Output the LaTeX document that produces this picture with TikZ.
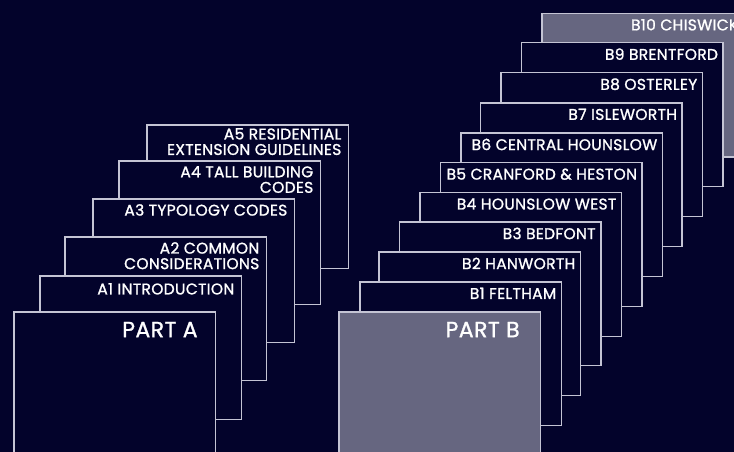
\documentclass[tikz,border=0pt]{standalone}
\usepackage{fontspec}
\setmainfont{Poppins}[FakeBold=1.2, LetterSpace=2]
\usetikzlibrary{positioning}

\definecolor{navy}{HTML}{03032B}
\definecolor{slate}{HTML}{666680}
\definecolor{edge}{HTML}{C4C4D4}

\begin{document}
\begin{tikzpicture}[
    x=1pt, y=-1pt,
    sheet/.style={rectangle, draw=edge, line width=1.5pt, fill=navy, minimum width=201.5pt,
                  minimum height=143.7pt, inner sep=0pt, outer sep=0pt, anchor=north west},
    sheetgray/.style={sheet, fill=slate},
    title/.style={inner sep=0pt, text=white, align=right, font=\fontsize{15.5}{15.5}\selectfont},
    parttitle/.style={title, font=\fontsize{22}{22}\selectfont}
]

\useasboundingbox (0,0) rectangle (734,452);
\clip (0,0) rectangle (734,452);
\fill[navy] (0,0) rectangle (734,452);

% Part A stack
\node[sheet] (aresid) at (147,125) {};
\node[title, below left=3pt and 7pt of aresid.north east] (aresidtxt)
    {A5 RESIDENTIAL\\EXTENSION GUIDELINES};

\node[sheet] (atall) at (119,161) {};
\node[title, below left=5pt and 7pt of atall.north east] (atalltxt) {A4 TALL BUILDING\\CODES};

\node[sheet] (atypo) at (93,199) {};
\node[title, below left=5pt and 7pt of atypo.north east] (atypotxt) {A3 TYPOLOGY CODES};

\node[sheet] (acommon) at (65,237) {};
\node[title, below left=5pt and 7pt of acommon.north east] (acommontxt) {A2 COMMON\\CONSIDERATIONS};

\node[sheet] (aintro) at (40,276) {};
\node[title, below left=7pt and 7pt of aintro.north east] (aintrotxt) {A1 INTRODUCTION};

\node[sheet] (parta) at (14,312) {};
\node[parttitle, below left=9.7pt and 17.7pt of parta.north east] (partatxt) {PART A};

% Part B stack
\node[sheetgray] (bchiswick) at (542,13.3) {};
\node[title, below left=5.5pt and 5pt of bchiswick.north east] (bchiswicktxt) {B10 CHISWICK};

\node[sheet] (bbrentford) at (521.7,42.7) {};
\node[title, below left=5.5pt and 5pt of bbrentford.north east] (bbrentfordtxt) {B9 BRENTFORD};

\node[sheet] (bosterley) at (501,72.7) {};
\node[title, below left=5.5pt and 5pt of bosterley.north east] (bosterleytxt) {B8 OSTERLEY};

\node[sheet] (bisleworth) at (480.7,103) {};
\node[title, below left=5.5pt and 5pt of bisleworth.north east] (bisleworthtxt) {B7 ISLEWORTH};

\node[sheet] (bcentral) at (461,133) {};
\node[title, below left=5.5pt and 5pt of bcentral.north east] (bcentraltxt) {B6 CENTRAL HOUNSLOW};

\node[sheet] (bcranford) at (440.7,162.7) {};
\node[title, below left=5.5pt and 5pt of bcranford.north east] (bcranfordtxt) {B5 CRANFORD \& HESTON};

\node[sheet] (bwest) at (420,192.7) {};
\node[title, below left=5.5pt and 5pt of bwest.north east] (bwesttxt) {B4 HOUNSLOW WEST};

\node[sheet] (bbedfont) at (399.3,222) {};
\node[title, below left=5.5pt and 5pt of bbedfont.north east] (bbedfonttxt) {B3 BEDFONT};

\node[sheet] (bhanworth) at (379,252) {};
\node[title, below left=5.5pt and 5pt of bhanworth.north east] (bhanworthtxt) {B2 HANWORTH};

\node[sheet] (bfeltham) at (360,282) {};
\node[title, below left=5.5pt and 5pt of bfeltham.north east] (bfelthamtxt) {B1 FELTHAM};

\node[sheetgray] (partb) at (339,312) {};
\node[parttitle, below left=9.7pt and 20.7pt of partb.north east] (partbtxt) {PART B};

\end{tikzpicture}
\end{document}
